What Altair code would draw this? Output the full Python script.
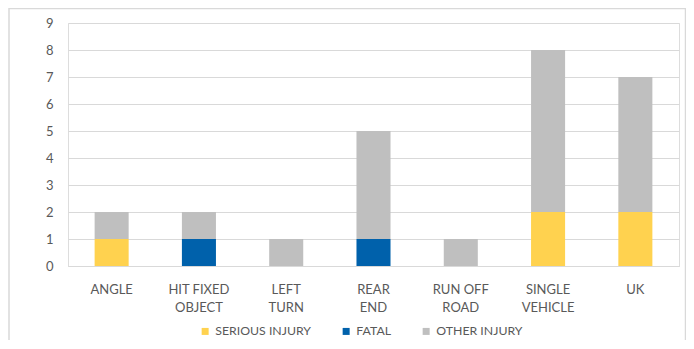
import altair as alt
import pandas as pd

categories = ["ANGLE", "HIT FIXED OBJECT", "LEFT TURN", "REAR END",
              "RUN OFF ROAD", "SINGLE VEHICLE", "UK"]
category_lines = {
    "HIT FIXED OBJECT": ["HIT FIXED", "OBJECT"],
    "LEFT TURN": ["LEFT", "TURN"],
    "REAR END": ["REAR", "END"],
    "RUN OFF ROAD": ["RUN OFF", "ROAD"],
    "SINGLE VEHICLE": ["SINGLE", "VEHICLE"],
}
series = ["SERIOUS INJURY", "FATAL", "OTHER INJURY"]
serious_injury = [1, 0, 0, 0, 0, 2, 2]
fatal = [0, 1, 0, 1, 0, 0, 0]
other_injury = [1, 1, 1, 4, 1, 6, 5]
colors = ["#FFD24F", "#0061AB", "#BFBFBF"]
y_ticks = [0, 1, 2, 3, 4, 5, 6, 7, 8, 9]
title_text = "CRASH TYPE"

rows = []
for s_idx, (name, vals) in enumerate(zip(series, [serious_injury, fatal, other_injury])):
    for cat, v in zip(categories, vals):
        if v > 0:
            rows.append({"category": cat, "series": name, "value": v, "order": s_idx})
df = pd.DataFrame(rows)

# label expression for two-line category labels
expr = "datum.label"
for cat, lines in category_lines.items():
    arr = "[" + ", ".join("'" + l + "'" for l in lines) + "]"
    expr = f"datum.label == '{cat}' ? {arr} : ({expr})"

FONT = "Lato"
TXT = "#595959"
GRID = "#D9D9D9"

bars = alt.Chart(df).mark_bar().encode(
    x=alt.X("category:N", sort=categories,
            scale=alt.Scale(paddingInner=0.61, paddingOuter=0.305),
            axis=alt.Axis(title=None, labelAngle=0, ticks=False,
                          domainColor=GRID, domainWidth=1,
                          labelFont=FONT, labelFontSize=13, labelColor=TXT,
                          labelPadding=17, labelLineHeight=18,
                          labelExpr=expr)),
    y=alt.Y("value:Q", stack="zero",
            scale=alt.Scale(domain=[0, 9], nice=False),
            axis=alt.Axis(title=None, values=y_ticks, domain=False, ticks=False,
                          gridColor=GRID, gridWidth=1,
                          labelFont=FONT, labelFontSize=13, labelColor=TXT,
                          labelPadding=15)),
    color=alt.Color("series:N", title=None,
                    scale=alt.Scale(domain=series, range=colors),
                    legend=alt.Legend(orient="none", direction="horizontal",
                                      legendX=131, legendY=302,
                                      symbolType="square", symbolSize=49,
                                      symbolStrokeWidth=0, labelOffset=4,
                                      columnPadding=28,
                                      labelFont=FONT, labelFontSize=12.3,
                                      labelColor=TXT, labelLimit=300)),
    order=alt.Order("order:Q", sort="ascending"),
)

frame = alt.Chart(pd.DataFrame({"f": [0]})).mark_rect(
    fillOpacity=0, stroke=GRID, strokeWidth=1.5
).encode(
    x=alt.value(-59), x2=alt.value(617.5),
    y=alt.value(-14.5), y2=alt.value(400),
)

chart = alt.layer(frame, bars).properties(
    width=611, height=243,
    autosize=alt.AutoSizeParams(type="none"),
    padding={"left": 60, "top": 15, "right": 7, "bottom": 74},
    title=alt.TitleParams(title_text, font=FONT, fontSize=24, color=TXT,
                          offset=19, fontWeight="normal"),
).configure_view(stroke=None).configure(background="white")

chart.save("out.html", embed_options={"renderer": "svg", "actions": False})
